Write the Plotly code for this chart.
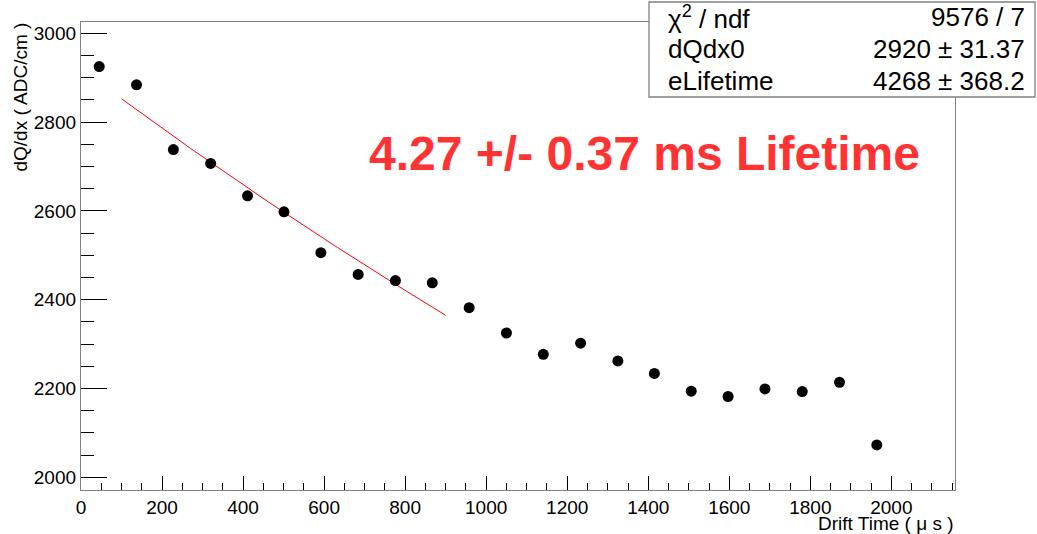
import numpy as np
import plotly.graph_objects as go

# Data
drift_time = [45, 137, 228, 320, 411, 501, 592, 684, 776, 867, 958, 1050,
              1141, 1233, 1325, 1415, 1506, 1597, 1688, 1780, 1872, 1964]
dqdx = [2925, 2884, 2738, 2707, 2634, 2598, 2506, 2457, 2443, 2438, 2382, 2325,
        2277, 2302, 2262, 2234, 2194, 2182, 2199, 2193, 2214, 2073]

# Fit parameters (from stat box)
dQdx0 = 2920.0
eLifetime = 4268.0
fit_range = [100, 900]

stat_labels = ["χ<sup>2</sup> / ndf", "dQdx0", "eLifetime"]
stat_values = ["9576 / 7", "2920 ± 31.37", "4268 ± 368.2"]

W, H = 1037, 534
L, R, T, B = 81, 955, 22, 490

def px(xp):
    return (xp - L) / (R - L)

def py(yp):
    return (B - yp) / (B - T)

t_fit = np.linspace(fit_range[0], fit_range[1], 100)
y_fit = dQdx0 * np.exp(-t_fit / eLifetime)

font = "Liberation Sans, Arial, Helvetica, sans-serif"

fig = go.Figure()
fig.add_trace(go.Scatter(x=t_fit, y=y_fit, mode="lines",
                         line=dict(color="#ff0000", width=1), hoverinfo="skip"))
fig.add_trace(go.Scatter(x=drift_time, y=dqdx, mode="markers",
                         marker=dict(color="black", size=11)))

axis_common = dict(showline=True, linecolor="#808080", linewidth=1.3, mirror=True,
                   showgrid=False, zeroline=False, ticks="inside",
                   tickcolor="black", tickwidth=1,
                   tickfont=dict(family=font, size=19, color="black"))

fig.update_xaxes(range=[0, 2157], dtick=200, tick0=0, ticklen=14,
                 minor=dict(dtick=50, ticklen=7, ticks="inside", tickcolor="black"),
                 **axis_common)
fig.update_yaxes(range=[1971.4, 3025.4], dtick=200, tick0=2000, ticklen=26,
                 minor=dict(dtick=50, ticklen=13, ticks="inside", tickcolor="black"),
                 **axis_common)

shapes = [dict(type="rect", xref="paper", yref="paper",
               x0=px(649), x1=px(1035), y0=py(97), y1=py(2),
               fillcolor="white", line=dict(color="#808080", width=1.3),
               layer="above")]

ann = []
row_y = [17, 49, 81]
for lab, val, yy in zip(stat_labels, stat_values, row_y):
    ann.append(dict(x=px(666), y=py(yy), xref="paper", yref="paper", text=lab,
                    showarrow=False, xanchor="left", yanchor="middle",
                    font=dict(family=font, size=26, color="black")))
    ann.append(dict(x=px(1027), y=py(yy), xref="paper", yref="paper", text=val,
                    showarrow=False, xanchor="right", yanchor="middle",
                    font=dict(family=font, size=26, color="black")))

ann.append(dict(x=px(644), y=py(153), xref="paper", yref="paper",
                text="<b>4.27 +/- 0.37 ms Lifetime</b>", showarrow=False,
                xanchor="center", yanchor="middle",
                font=dict(family=font, size=48, color="#ff3333")))
ann.append(dict(x=px(956), y=py(523), xref="paper", yref="paper",
                text="Drift Time ( μ s )", showarrow=False,
                xanchor="right", yanchor="middle",
                font=dict(family=font, size=19, color="black")))
ann.append(dict(x=px(20), y=py(21), xref="paper", yref="paper",
                text="dQ/dx ( ADC/cm )", showarrow=False, textangle=-90,
                xanchor="center", yanchor="top",
                font=dict(family=font, size=19, color="black")))

fig.update_layout(width=W, height=H, margin=dict(l=L, r=W - R, t=T, b=H - B),
                  paper_bgcolor="white", plot_bgcolor="white", showlegend=False,
                  shapes=shapes, annotations=ann)

fig.write_html("out.html", config={"displayModeBar": False},
               post_script="document.body.style.margin='0';document.body.style.overflow='hidden';")
